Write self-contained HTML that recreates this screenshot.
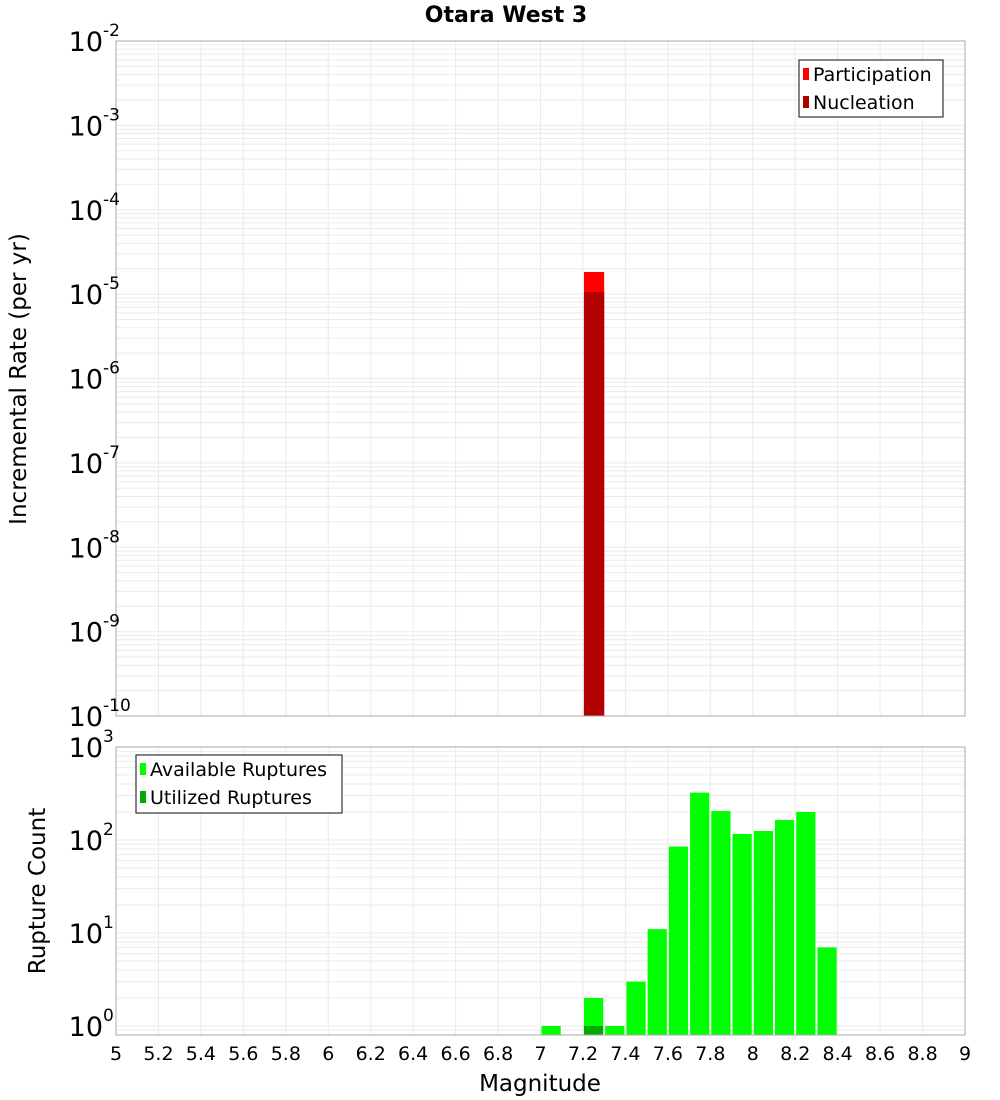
<!DOCTYPE html>
<html><head><meta charset="utf-8"><style>
body{margin:0;background:#fff;}
svg{display:block;font-family:"DejaVu Sans","Liberation Sans",sans-serif;}
</style></head><body>
<svg id="c" width="1000" height="1100" viewBox="0 0 1000 1100" xmlns="http://www.w3.org/2000/svg">
<text x="506" y="22" text-anchor="middle" font-size="22" font-weight="bold">Otara West 3</text>
<g id="g"></g>
</svg>
<script>
const magBins=[7.2];
const participation=[1.83e-5];
const nucleation=[1.06e-5];
const countBins=[7.0,7.2,7.3,7.4,7.5,7.6,7.7,7.8,7.9,8.0,8.1,8.2,8.3];
const available=[1,2,1,3,11,85,323,205,116,125,164,200,7];
const utilizedBins=[7.2];
const utilized=[1];
const xTicks=[5,5.2,5.4,5.6,5.8,6,6.2,6.4,6.6,6.8,7,7.2,7.4,7.6,7.8,8,8.2,8.4,8.6,8.8,9];
const topExps=[-2,-3,-4,-5,-6,-7,-8,-9,-10];
const botExps=[3,2,1,0];

const NS="http://www.w3.org/2000/svg";
const g=document.getElementById('g');
function el(t,a,p){const e=document.createElementNS(NS,t);for(const k in a)e.setAttribute(k,a[k]);(p||g).appendChild(e);return e;}
const X0=116,X1=965;
const x=m=>X0+(m-5)/(9-5)*(X1-X0);
const T0=41,T1=716;
const yTop=v=>T0+(-2-Math.log10(v))*(T1-T0)/8;
const B0=747,B1=1035;
const yBot=v=>1026-Math.log10(v)*93;

function grid(y0,y1,yf,dlo,dhi){
  for(let d=dlo;d<dhi;d++)for(let k=1;k<10;k++){const yy=yf(k*Math.pow(10,d));if(yy<y0||yy>y1)continue;
    const l=el('line',{x1:X0,x2:X1,y1:yy,y2:yy,stroke:'#ebebeb','stroke-width':1});
    }
  xTicks.forEach(t=>{const l=el('line',{x1:x(t),x2:x(t),y1:y0,y2:y1,stroke:'#ebebeb','stroke-width':1});
    });
}
grid(T0,T1,yTop,-10,-1);
grid(B0,B1,yBot,-1,3);

magBins.forEach((m,i)=>{
  const r=el('rect',{x:x(m)+1,width:x(m+0.1)-x(m)-1,y:yTop(participation[i]),height:T1-yTop(participation[i]),fill:'#ff0000'});
  
  const n=el('rect',{x:x(m)+1,width:x(m+0.1)-x(m)-1,y:yTop(nucleation[i]),height:T1-yTop(nucleation[i]),fill:'#b00000'});
  
});
countBins.forEach((m,i)=>{
  const yy=yBot(available[i]);
  const r=el('rect',{x:x(m)+1,width:x(m+0.1)-x(m)-2,y:yy,height:B1-yy,fill:'#00ff00'});
  
});
utilizedBins.forEach((m,i)=>{
  const yy=yBot(utilized[i]);
  const r=el('rect',{x:x(m)+1,width:x(m+0.1)-x(m)-2,y:yy,height:B1-yy,fill:'#00aa00'});
  
});

const f1=el('rect',{x:X0,y:T0,width:X1-X0,height:T1-T0,fill:'none',stroke:'#aaa'});

const f2=el('rect',{x:X0,y:B0,width:X1-X0,height:B1-B0,fill:'none',stroke:'#aaa'});


function expLabel(e,yy,name){
  const lg=el('g',{});
  const t=el('text',{x:103,y:yy+10,'text-anchor':'end','font-size':27},lg);
  t.textContent='10';
  const b=el('text',{x:103,y:yy-5,'font-size':17},lg);
  b.textContent=String(e);
}
topExps.forEach(e=>expLabel(e,yTop(Math.pow(10,e)),'top-y-tick-label'));
botExps.forEach(e=>expLabel(e,yBot(Math.pow(10,e)),'bottom-y-tick-label'));

xTicks.forEach(t=>{
  const s=el('text',{x:x(t),y:1060,'text-anchor':'middle','font-size':19});
  
  s.textContent=String(t);
});
const xt=el('text',{x:540,y:1091,'text-anchor':'middle','font-size':23});
xt.textContent='Magnitude';
const yt1=el('text',{x:0,y:0,'text-anchor':'middle','font-size':23,transform:'translate(26,379) rotate(-90)'});
yt1.textContent='Incremental Rate (per yr)';
const yt2=el('text',{x:0,y:0,'text-anchor':'middle','font-size':23,transform:'translate(45,891) rotate(-90)'});
yt2.textContent='Rupture Count';

function legend(bx,by,w,h,items,name){
  const lg=el('g',{});
  el('rect',{x:bx,y:by,width:w,height:h,fill:'#fff',stroke:'#333','stroke-width':1.2},lg);
  items.forEach((it,i)=>{
    const cy=by+14+i*28;
    const sw=el('rect',{x:bx+4,y:cy-6,width:6,height:12,fill:it[1]},lg);
    
    const t=el('text',{x:bx+14,y:cy+7,'font-size':19},lg);
    
    t.textContent=it[0];
  });
}
legend(799,60,144,57,[['Participation','#ff0000'],['Nucleation','#b00000']],'top-legend');
legend(136,755,206,58,[['Available Ruptures','#00ff00'],['Utilized Ruptures','#00aa00']],'bottom-legend');
</script>
</body></html>
